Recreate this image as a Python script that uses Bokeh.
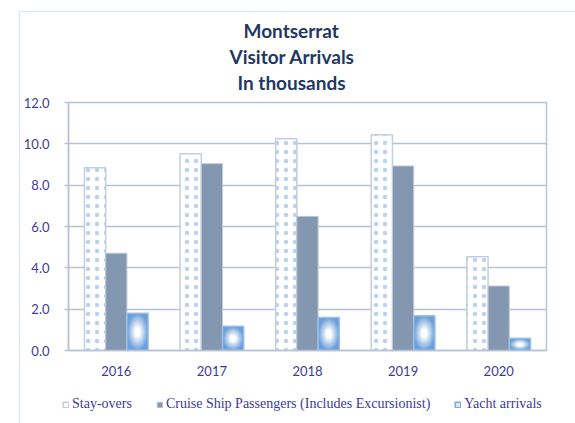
from bokeh.plotting import figure
from bokeh.models import (ColumnDataSource, FactorRange, Range1d, Legend, LegendItem,
                          Title, FixedTicker, NumeralTickFormatter)
from bokeh.transform import dodge
from bokeh.embed import file_html
from bokeh.resources import INLINE

# ---- data ----
years = ["2016", "2017", "2018", "2019", "2020"]
stay_overs = [8.84, 9.52, 10.24, 10.44, 4.54]
cruise = [4.71, 9.04, 6.49, 8.93, 3.12]
yacht = [1.80, 1.17, 1.60, 1.68, 0.59]
y_ticks = [0, 2, 4, 6, 8, 10, 12]
title_lines = ["Montserrat", "Visitor Arrivals", "In thousands"]
series_names = ["Stay-overs", "Cruise Ship Passengers (Includes Excursionist)", "Yacht arrivals"]

# ---- styles ----
GRID = "#b9c2d2"
LABEL = "#3b3b9c"
AXFONT = "Lato"
BORDER = "1px solid #d5e3f3"
BW = 0.222
STAY = dict(fill_color="white", line_color="#c3cde0", line_width=1.5)
CRUISE = dict(fill_color="#8497b0", line_color="#c0cad8", line_width=1)
YACHT = dict(fill_color="#6a9fd8", line_color="#9dbfe6", line_width=1.5)

src = ColumnDataSource(dict(year=years, stay=stay_overs, cruise=cruise, yacht=yacht))

p = figure(width=556, height=374, output_backend="svg", toolbar_location=None,
           x_range=FactorRange(*years, range_padding=0), y_range=Range1d(0, 12),
           min_border_left=42, min_border_right=30, min_border_top=90, min_border_bottom=36)
p.margin = (11, 0, 0, 19)
p.styles = {"border-left": BORDER, "border-top": BORDER}
p.background_fill_color = "white"
p.border_fill_color = "white"
p.outline_line_color = GRID
p.outline_line_width = 1.5

p.xgrid.grid_line_color = None
p.ygrid.grid_line_color = GRID
p.ygrid.grid_line_width = 1.5
p.yaxis.ticker = FixedTicker(ticks=y_ticks)
p.yaxis.formatter = NumeralTickFormatter(format="0.0")
for ax in (p.xaxis[0], p.yaxis[0]):
    ax.axis_line_color = GRID
    ax.axis_line_width = 1.5
    ax.major_tick_line_color = GRID
    ax.major_tick_line_width = 1.5
    ax.minor_tick_line_color = None
    ax.major_label_text_color = LABEL
    ax.major_label_text_font = AXFONT
    ax.major_label_text_font_size = "13px"
p.yaxis.major_tick_in = 0
p.yaxis.major_tick_out = 4
p.yaxis.major_label_standoff = 15
p.xaxis.major_tick_in = 0
p.xaxis.major_tick_out = 0
p.xaxis.major_label_standoff = 15

p.vbar(x=dodge("year", -BW, range=p.x_range), top="stay", width=BW, source=src,
       hatch_pattern="dot", hatch_color="#7aa3dc", hatch_scale=9, hatch_weight=0.5,
       hatch_alpha=0.5, **STAY)
p.vbar(x=dodge("year", 0, range=p.x_range), top="cruise", width=BW, source=src, **CRUISE)

# yacht: base bar, nested ellipses (radial gradient look), outline on top
p.vbar(x=dodge("year", BW, range=p.x_range), top="yacht", width=BW, source=src,
       fill_color=YACHT["fill_color"], line_color=None)
edge = (112, 163, 218)
n = 14
for k in range(n):
    f = 1 - k / n
    t = min(1.0, (k / (n - 1)) * 1.25)
    col = "#%02x%02x%02x" % tuple(int(round(c + (255 - c) * t)) for c in edge)
    s = ColumnDataSource(dict(year=years, ymid=[v / 2 for v in yacht], h=[v * f for v in yacht]))
    p.ellipse(x=dodge("year", BW, range=p.x_range), y="ymid", width=BW * f, height="h", source=s,
              fill_color=col, line_color=None)
p.vbar(x=dodge("year", BW, range=p.x_range), top="yacht", width=BW, source=src,
       fill_color=None, line_color=YACHT["line_color"], line_width=YACHT["line_width"])

# title lines (nearest to plot first), with a small spacer above the frame
p.add_layout(Title(text=" ", text_font_size="5px", standoff=0), "above")
title_left = [175, 161, 169]
for line, off in reversed(list(zip(title_lines, title_left))):
    p.add_layout(Title(text=line, align="left", offset=off, text_font="Lato",
                       text_font_size="19px", text_font_style="bold", text_color="#1f3864",
                       standoff=1), "above")

# legend strip below the chart (separate root, so it is not frame-aligned)
lf = figure(width=556, height=38, output_backend="svg", toolbar_location=None,
            x_range=Range1d(0, 1), y_range=Range1d(0, 1), x_axis_type=None, y_axis_type=None,
            min_border=0, min_border_left=0, min_border_right=0, min_border_top=0,
            min_border_bottom=0)
lf.margin = (0, 0, 0, 19)
lf.styles = {"border-left": BORDER}
lf.outline_line_color = None
lf.background_fill_color = "white"
lf.border_fill_color = "white"
lf.grid.visible = False
hidden = ColumnDataSource(dict(x=[5.0], top=[0.5]))
l_stay = lf.vbar(x="x", top="top", width=0.1, source=hidden, **STAY)
l_cruise = lf.vbar(x="x", top="top", width=0.1, source=hidden, **CRUISE)
l_yacht = lf.vbar(x="x", top="top", width=0.1, source=hidden, fill_color="#d6e6f6",
                  line_color="#7fa9dc", line_width=1.5)
legend = Legend(items=[LegendItem(label=series_names[0], renderers=[l_stay]),
                       LegendItem(label=series_names[1], renderers=[l_cruise]),
                       LegendItem(label=series_names[2], renderers=[l_yacht])],
                orientation="horizontal", location=(42, 11), padding=0, margin=0,
                spacing=24, glyph_width=7, glyph_height=7, label_standoff=3,
                label_text_font="Liberation Serif", label_text_font_size="14px",
                label_text_color=LABEL, border_line_color=None, background_fill_alpha=0)
lf.add_layout(legend, "center")

open("out.html", "w").write(file_html([p, lf], INLINE))
